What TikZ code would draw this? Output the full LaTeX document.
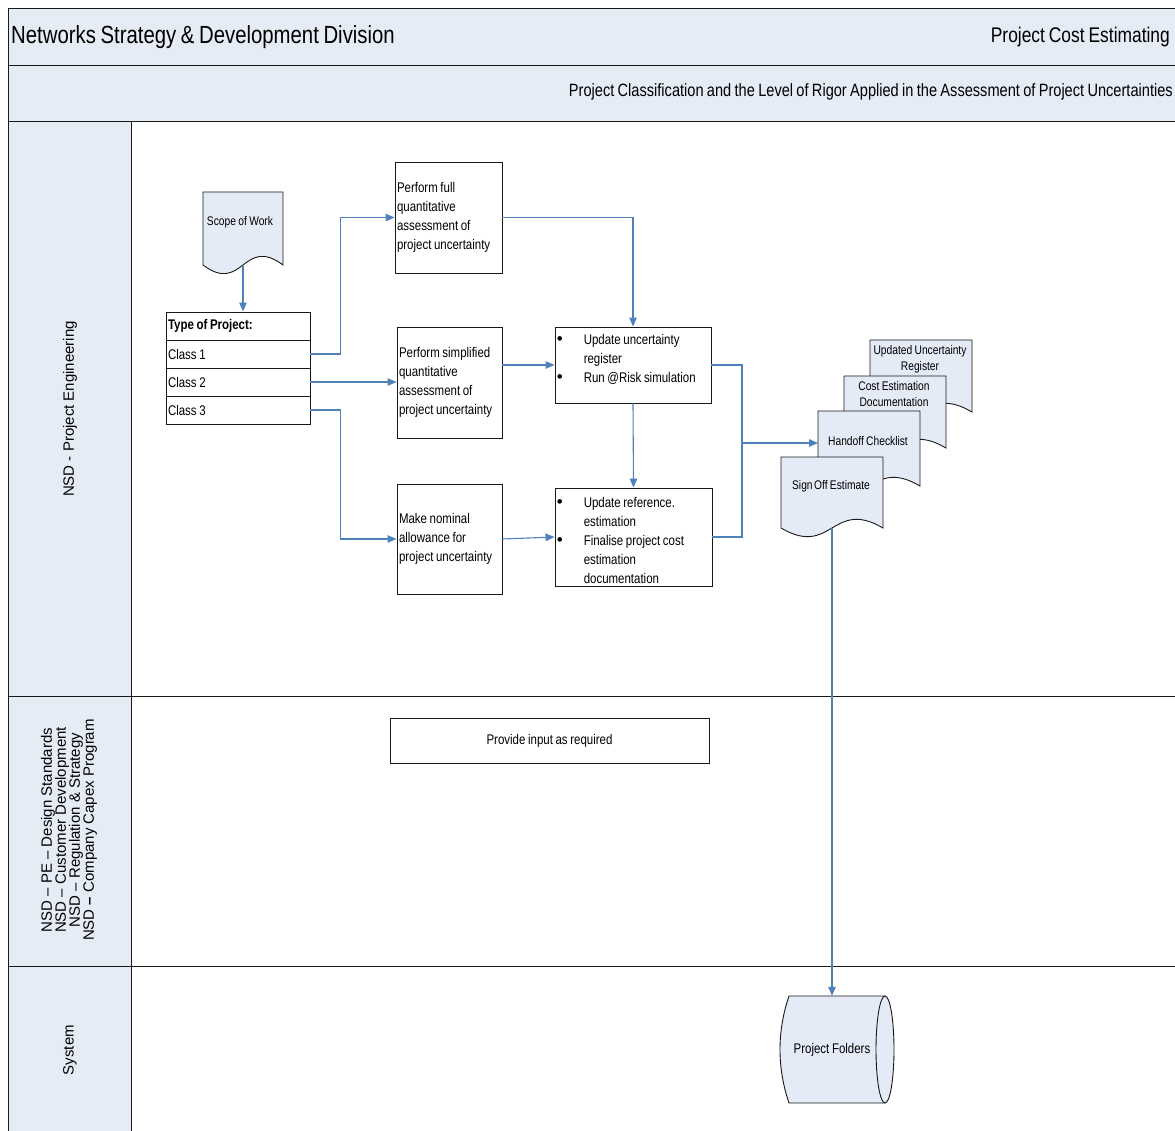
\documentclass[tikz,border=0pt]{standalone}
\usepackage{fontspec}
\setmainfont{Liberation Sans}
\newfontfamily\narrowfont[FakeStretch=0.82,WordSpace=0.82]{Liberation Sans}
\usetikzlibrary{arrows.meta,calc}

\definecolor{lanefill}{RGB}{230,236,246}
\definecolor{docfill}{RGB}{228,234,246}
\definecolor{flowblue}{RGB}{79,129,189}

\newcommand\nsize[2]{\narrowfont\fontsize{#1}{#2}\selectfont}
\newcommand\bulletmark{\makebox[27pt][l]{\normalfont\fontsize{17}{19}\selectfont\textbullet}}

% document symbol: left x, top y, right x, y where the wavy edge meets the sides
\newcommand\docsymbol[4]{%
  \filldraw[docline] (#1,#2) -- (#3,#2) -- (#3,#4)
    .. controls ({(#1+#3)/2},{#4-30}) and ({(#1+#3)/2},{#4+30}) .. (#1,#4) -- cycle;}

\tikzset{
  frame/.style={draw=black!90, line width=0.9pt},
  docline/.style={draw=black!90, fill=docfill, line width=0.9pt},
  flowbox/.style={draw=black!90, fill=white, line width=0.9pt, inner sep=2pt,
    align=flush left, font=\nsize{14}{19}},
  cell/.style={draw=black!90, fill=white, line width=0.9pt, inner sep=2pt,
    minimum width=144pt, minimum height=28pt, text width=140pt, align=flush left,
    font=\nsize{14}{19}},
  bodytext/.style={inner sep=0pt, align=flush left, font=\nsize{14}{19}},
  doctext/.style={inner sep=0pt, align=center, font=\nsize{12.5}{16}},
  lanelabel/.style={rotate=90, inner sep=0pt, align=center, font=\fontsize{15}{14}\selectfont},
  flowline/.style={draw=flowblue, line width=1.1pt},
  flowarrow/.style={flowline, -{Triangle[length=9pt,width=7.5pt]}},
}

\begin{document}
\begin{tikzpicture}[x=1pt,y=-1pt]
\useasboundingbox (0,0) rectangle (1175,1131);

% header bands and lane label column
\fill[lanefill] (8,8) rectangle (1175,121);
\fill[lanefill] (8,121) rectangle (131,1131);
\draw[frame] (8,1131) -- (8,8) -- (1175,8);
\draw[frame] (8,65) -- (1175,65);
\draw[frame] (8,121) -- (1175,121);
\draw[frame] (131,121) -- (131,1131);
\draw[frame] (8,696) -- (1175,696);
\draw[frame] (8,966) -- (1175,966);

\node[anchor=west, inner sep=0pt, font=\nsize{24.8}{28}] (division) at (11,37)
  {Networks Strategy \& Development Division};
\node[anchor=east, inner sep=0pt, font=\nsize{21.2}{24}] (process) at (1170,37)
  {Project Cost Estimating};
\node[anchor=east, inner sep=0pt, font=\nsize{17.8}{20}] (subtitle) at (1173,92)
  {Project Classification and the Level of Rigor Applied in the Assessment of Project Uncertainties};

% lane labels
\node[lanelabel] (laneA) at (70,409) {NSD - Project Engineering};
\node[lanelabel] (laneB) at (69,830)
  {NSD – PE – Design Standards\\NSD – Customer Development\\NSD – Regulation \& Strategy\\NSD \textbf{–} Company Capex Program};
\node[lanelabel] (laneC) at (70,1050) {System};

% scope of work document
\docsymbol{203}{192}{283}{265}
\node[doctext] (sow) at (240,222) {Scope of Work};
\coordinate (sowB) at (243,266);

% project type table
\node[cell] (t0) at (238,326) {\bfseries Type of Project:};
\node[cell] (t1) at (238,354) {Class 1};
\node[cell] (t2) at (238,382) {Class 2};
\node[cell] (t3) at (238,410) {Class 3};

% assessment steps
\node[flowbox, text width=103pt, minimum height=111pt] (pa) at (448.5,217.5)
  {Perform full\\quantitative\\assessment of\\project uncertainty};
\node[flowbox, text width=101pt, minimum height=111pt] (pb) at (449.5,382.5)
  {Perform simplified\\quantitative\\assessment of\\project uncertainty};
\node[flowbox, text width=101pt, minimum height=110pt] (pc) at (449.5,539)
  {Make nominal\\allowance for\\project uncertainty};

\node[flowbox, minimum width=156pt, minimum height=76pt] (pd) at (633,365) {};
\node[bodytext, anchor=north west] (pdt) at ($(pd.north west)+(2,8)$)
  {\bulletmark Update uncertainty\\\hspace*{27pt}register\\\bulletmark Run @Risk simulation};
\node[flowbox, minimum width=157pt, minimum height=98pt] (pe) at (633.5,537) {};
\node[bodytext, anchor=north west] (pet) at ($(pe.north west)+(2,10)$)
  {\bulletmark Update reference.\\\hspace*{27pt}estimation\\\bulletmark Finalise project cost\\\hspace*{27pt}estimation\\\hspace*{27pt}documentation};

% lane 2 task
\node[flowbox, align=center, minimum width=319pt, minimum height=45pt] (input) at (549.5,740.5)
  {Provide input as required};

% output documents, back to front
\docsymbol{870}{340}{972}{412}
\node[doctext] (uur) at (920,359) {Updated Uncertainty\\Register};
\docsymbol{844}{376}{946}{448}
\node[doctext] (ced) at (894,394.5) {Cost Estimation\\Documentation};
\docsymbol{818}{411}{920}{486}
\node[doctext] (hc) at (868,441) {Handoff Checklist};
\coordinate (hcL) at (818,443);
\docsymbol{781}{457}{883}{528}
\node[doctext] (soe) at (831,486) {Sign\kern1.5pt Off Estimate};
\coordinate (soeB) at (832,528);

% project folders store
\filldraw[docline] (789,996) -- (885,996) -- (885,1103) -- (789,1103)
  .. controls (777,1068) and (777,1031) .. (789,996) -- cycle;
\filldraw[docline] (885,1049.5) ellipse [x radius=9, y radius=53.5];
\node[inner sep=0pt, minimum width=105pt, minimum height=107pt, font=\nsize{14}{17}] (pf) at (832,1049.5) {Project Folders};

% connectors
\draw[flowarrow] (sowB) -- (sowB |- t0.north);
\draw[flowarrow] (t1.east) -- ++(30,0) |- (pa.west);
\draw[flowarrow] (t2.east) -- (t2.east -| pb.west);
\draw[flowarrow] (t3.east) -- ++(30,0) |- (pc.west);
\draw[flowarrow] (pa.east) -| (pd.north);
\draw[flowarrow] (pb.east |- pd.west) -- (pd.west);
\draw[flowarrow] (pd.south) -- (pe.north);
\draw[flowarrow] (pc.east) -- (pe.west);
\coordinate (jn) at (742,443);
\draw[flowline] (pd.east) -| (jn) |- (pe.east);
\draw[flowarrow] (jn) -- (hcL);
\draw[flowarrow] (soeB) -- (pf.north);
\end{tikzpicture}
\end{document}
